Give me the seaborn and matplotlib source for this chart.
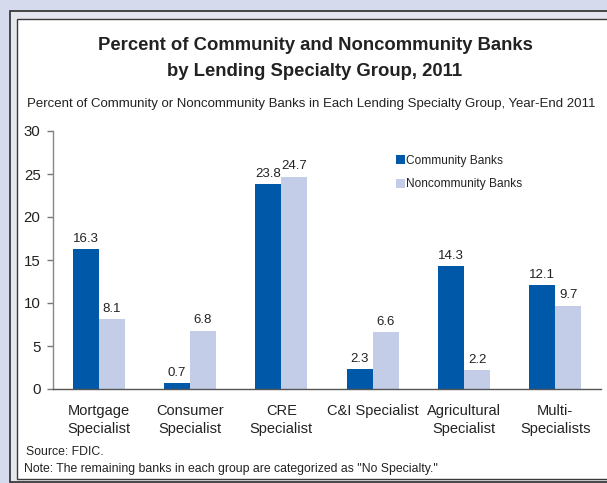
import matplotlib
matplotlib.use("Agg")
import matplotlib.pyplot as plt
from matplotlib.patches import Rectangle
import seaborn as sns
import pandas as pd

categories = ["Mortgage\nSpecialist", "Consumer\nSpecialist", "CRE\nSpecialist",
              "C&I Specialist", "Agricultural\nSpecialist", "Multi-\nSpecialists"]
community = [16.3, 0.7, 23.8, 2.3, 14.3, 12.1]
noncommunity = [8.1, 6.8, 24.7, 6.6, 2.2, 9.7]
series_names = ["Community Banks", "Noncommunity Banks"]
y_ticks = [0, 5, 10, 15, 20, 25, 30]

df = pd.DataFrame({
    "cat": categories * 2,
    "val": community + noncommunity,
    "series": [series_names[0]] * 6 + [series_names[1]] * 6,
})

sns.set_theme(style="white")
plt.rcParams["font.family"] = ["Liberation Sans", "DejaVu Sans"]

W, H = 607, 483
fig = plt.figure(figsize=(W / 100, H / 100), dpi=100)
fig.patch.set_facecolor("#D5DAEC")

def px(x0, y0, x1, y1):
    return (x0 / W, 1 - y1 / H), (x1 - x0) / W, (y1 - y0) / H

xy, w, h = px(10, 11, 640, 482)
fig.patches.append(Rectangle(xy, w, h, transform=fig.transFigure, facecolor="#E6E7EE",
                             edgecolor="#3A3A3A", linewidth=1.3, zorder=-20))
xy, w, h = px(16.5, 19, 640, 478.5)
fig.patches.append(Rectangle(xy, w, h, transform=fig.transFigure, facecolor="white",
                             edgecolor="#3A3A3A", linewidth=1.0, zorder=-19))

ax = fig.add_axes([53 / W, 1 - 389 / H, (601 - 53) / W, (389 - 131) / H])
ax.set_facecolor("none")

colors = ["#0058A8", "#C4CDE7"]
sns.barplot(data=df, x="cat", y="val", hue="series", palette=colors, width=0.57,
            gap=0, saturation=1, ax=ax, legend=True, linewidth=0)

for cont in ax.containers:
    ax.bar_label(cont, fmt="%.1f", padding=3, fontsize=9.5, color="#222222")

ax.set_ylim(0, 30)
ax.set_xlim(-0.5, 5.5)
ax.set_yticks(y_ticks)
ax.set_yticklabels([str(t) for t in y_ticks], fontsize=10.8, color="#222222")
ax.set_xticks(range(6))
ax.set_xticklabels(categories, fontsize=10.5, color="#222222", linespacing=1.35)
ax.set_xticks([i - 0.5 for i in range(7)], minor=True)
ax.tick_params(axis="x", which="major", length=0, pad=11)
ax.tick_params(axis="x", which="minor", length=4, width=1, color="#555555", direction="out")
ax.tick_params(axis="y", which="major", length=4, width=1, color="#777777", direction="out",
               pad=5, left=True)
ax.set_xlabel("")
ax.set_ylabel("")
for s in ["top", "right"]:
    ax.spines[s].set_visible(False)
ax.spines["left"].set_color("#888888")
ax.spines["bottom"].set_color("#555555")
ax.spines["left"].set_linewidth(1)
ax.spines["bottom"].set_linewidth(1)

leg = ax.legend(loc="upper left", bbox_to_anchor=(396 / W, 1 - 155 / H),
                bbox_transform=fig.transFigure, frameon=False, fontsize=8.6,
                handlelength=0.75, handleheight=0.75, handletextpad=0.1,
                labelspacing=0.95, borderaxespad=0, borderpad=0)
for t in leg.get_texts():
    t.set_color("#222222")

fig.text(315 / W, 1 - 58.5 / H,
         "Percent of Community and Noncommunity Banks\nby Lending Specialty Group, 2011",
         ha="center", va="center", fontsize=13.3, fontweight="bold", color="#222222",
         linespacing=1.65)
fig.text(27 / W, 1 - 104 / H,
         "Percent of Community or Noncommunity Banks in Each Lending Specialty Group, Year-End 2011",
         ha="left", va="center", fontsize=9.55, color="#222222")
fig.text(26 / W, 1 - 452 / H, "Source: FDIC.", ha="left", va="center", fontsize=8.85,
         color="#222222")
fig.text(24 / W, 1 - 469 / H,
         'Note: The remaining banks in each group are categorized as "No Specialty."',
         ha="left", va="center", fontsize=8.85, color="#222222")

fig.savefig("out.png", dpi=100, facecolor=fig.get_facecolor())
